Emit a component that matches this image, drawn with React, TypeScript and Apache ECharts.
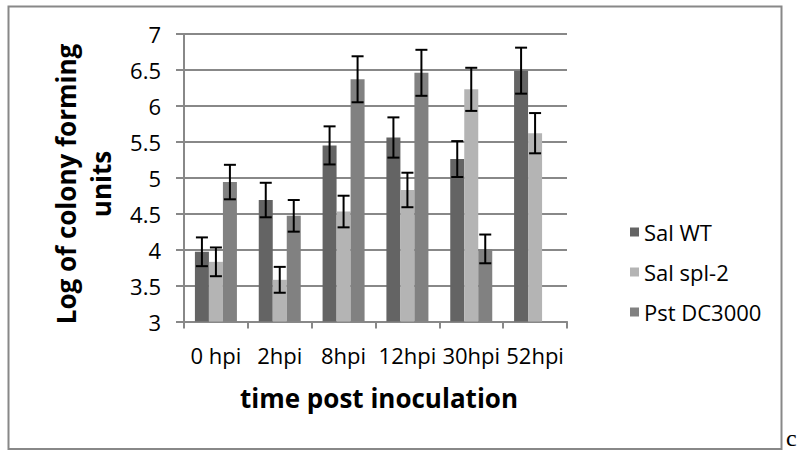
import React, { useEffect, useRef } from "react";
import * as echarts from "echarts";

const categories = ["0 hpi", "2hpi", "8hpi", "12hpi", "30hpi", "52hpi"];
const seriesNames = ["Sal WT", "Sal spl-2", "Pst DC3000"];
const salWT = [3.97, 4.69, 5.45, 5.56, 5.26, 6.49];
const salWTErr = [0.2, 0.24, 0.265, 0.28, 0.25, 0.32];
const salSpl2 = [3.83, 3.58, 4.53, 4.83, 6.23, 5.62];
const salSpl2Err = [0.2, 0.18, 0.22, 0.24, 0.3, 0.28];
const pstDC3000: (number | null)[] = [4.94, 4.47, 6.37, 6.46, 4.01, null];
const pstDC3000Err: (number | null)[] = [0.24, 0.22, 0.32, 0.32, 0.2, null];
const yTicks = { min: 3, max: 7, interval: 0.5 };

const colors = ["#646464", "#b4b4b4", "#818181"];
const FONT = "'Open Sans', 'Noto Sans', sans-serif";
const BAR_W = 14;

export default function App() {
  const ref = useRef<HTMLDivElement>(null);
  useEffect(() => {
    document.body.style.margin = "0";
    if (!ref.current) return;
    const chart = echarts.init(ref.current, undefined, { renderer: "svg" });
    const values = [salWT, salSpl2, pstDC3000];
    const errs = [salWTErr, salSpl2Err, pstDC3000Err];

    const barSeries = values.map((v, k) => ({
      name: seriesNames[k],
      type: "bar",
      data: v,
      barWidth: BAR_W,
      barGap: "0%",
      itemStyle: { color: colors[k] },
      z: 2,
    }));

    const errSeries = values.map((v, k) => {
      const data: any[] = [];
      v.forEach((val, i) => {
        const e = errs[k][i];
        if (val != null && e != null) data.push([i, val - e, val + e]);
      });
      const offset = (k - 1) * BAR_W;
      return {
        type: "custom",
        name: seriesNames[k] + " err",
        data,
        encode: { x: 0, y: [1, 2] },
        z: 5,
        silent: true,
        renderItem: (params: any, api: any) => {
          const lo = api.coord([api.value(0), api.value(1)]);
          const hi = api.coord([api.value(0), api.value(2)]);
          const cx = lo[0] + offset;
          const half = 6;
          const style = { stroke: "#000", lineWidth: 2 };
          return {
            type: "group",
            children: [
              { type: "line", shape: { x1: cx, y1: lo[1], x2: cx, y2: hi[1] }, style },
              { type: "line", shape: { x1: cx - half, y1: lo[1], x2: cx + half, y2: lo[1] }, style },
              { type: "line", shape: { x1: cx - half, y1: hi[1], x2: cx + half, y2: hi[1] }, style },
            ],
          };
        },
      };
    });

    chart.setOption({
      animation: false,
      textStyle: { fontFamily: FONT },
      grid: { left: 184, right: 234, top: 34, bottom: 129.5, containLabel: false },
      legend: {
        data: seriesNames,
        orient: "vertical",
        left: 625,
        top: 207,
        icon: "rect",
        itemWidth: 9,
        itemHeight: 9,
        itemGap: 0,
        selectedMode: false,
        textStyle: { fontFamily: FONT, fontSize: 22, color: "#000", lineHeight: 40 },
      },
      xAxis: {
        type: "category",
        data: categories,
        axisLine: { show: true, lineStyle: { color: "#888", width: 2 } },
        axisTick: { show: true, length: 7, interval: 0, lineStyle: { color: "#888", width: 2 } },
        axisLabel: { interval: 0, fontFamily: FONT, fontSize: 22, color: "#000", margin: 22 },
      },
      yAxis: {
        type: "value",
        min: yTicks.min,
        max: yTicks.max,
        interval: yTicks.interval,
        axisLine: { show: true, lineStyle: { color: "#888", width: 2 } },
        axisTick: { show: true, length: 8, lineStyle: { color: "#888", width: 2 } },
        splitLine: { show: true, lineStyle: { color: "#888", width: 2 } },
        axisLabel: { fontFamily: FONT, fontSize: 22, color: "#000", margin: 23 },
      },
      graphic: [
        {
          type: "rect",
          shape: { x: 8.5, y: 6.5, width: 773, height: 442.5 },
          style: { fill: "none", stroke: "#888", lineWidth: 2 },
          silent: true,
        },
        {
          type: "text",
          x: 83,
          y: 184,
          rotation: Math.PI / 2,
          style: {
            text: "Log of colony forming\nunits",
            font: `bold 26px ${FONT}`,
            fill: "#000",
            align: "center",
            verticalAlign: "middle",
            lineHeight: 35,
          },
        },
        {
          type: "text",
          x: 379,
          y: 398,
          style: {
            text: "time post inoculation",
            font: `bold 26px ${FONT}`,
            fill: "#000",
            align: "center",
            verticalAlign: "middle",
          },
        },
        {
          type: "text",
          x: 786,
          y: 450,
          style: {
            text: "c",
            font: "24px 'Liberation Serif', serif",
            fill: "#000",
            align: "left",
            verticalAlign: "bottom",
          },
        },
      ],
      series: [...barSeries, ...errSeries],
    });
    return () => chart.dispose();
  }, []);
  return <div ref={ref} style={{ width: 801, height: 451 }} />;
}
